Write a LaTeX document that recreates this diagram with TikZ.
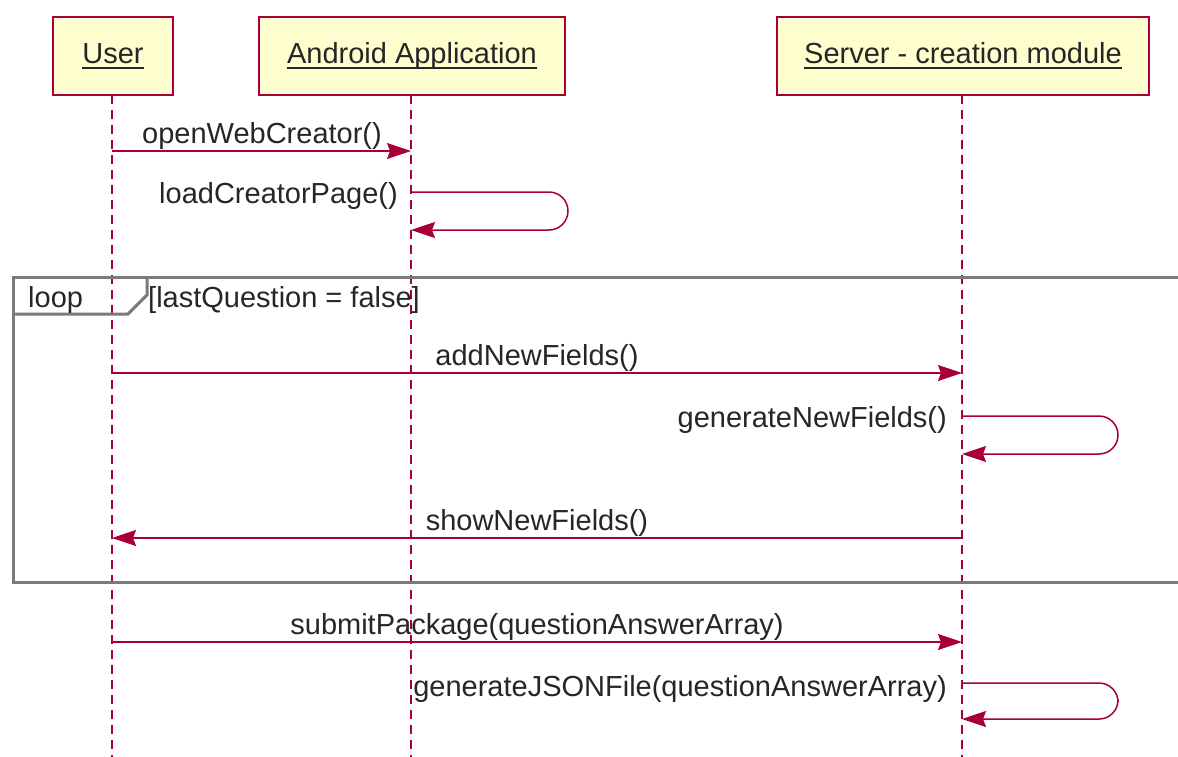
\documentclass[tikz,border=0pt]{standalone}
\usepackage{fontspec}
\setmainfont{Liberation Sans}
\usetikzlibrary{arrows.meta}
\definecolor{umlred}{HTML}{A80036}
\definecolor{umlfill}{HTML}{FEFECE}
\definecolor{framegray}{HTML}{7A7A7A}
\newcommand{\headtext}[1]{\setbox0\hbox{#1}\rlap{\rule[-5.5pt]{\wd0}{2pt}}\box0}
\begin{document}
\begin{tikzpicture}[x=1pt,y=-1pt,
  every node/.style={font=\fontsize{29}{34}\selectfont, text=black!85},
  head/.style={draw=umlred, fill=umlfill, line width=2pt, minimum height=78pt,
    inner sep=0pt, text height=21pt, text depth=6pt},
  lifeline/.style={draw=umlred, line width=1.5pt, dash pattern=on 9pt off 6pt},
  msg/.style={draw=umlred, line width=1.5pt,
    -{Stealth[length=24pt,width=16pt,inset=3pt]}},
  selfmsg/.style={msg, rounded corners=19pt},
  lbl/.style={anchor=base, inner sep=0pt},
  lblr/.style={anchor=base east, inner sep=0pt},
  lbll/.style={anchor=base west, inner sep=0pt},
  loopframe/.style={draw=framegray, line width=3pt}]
\useasboundingbox (0,0) rectangle (1178,756);

% participants
\node[head, minimum width=120pt] (user) at (113,56) {\headtext{User}};
\node[head, minimum width=306pt] (app) at (412,56) {\headtext{Android Application}};
\node[head, minimum width=372pt] (srv) at (963,56) {\headtext{Server - creation module}};

% lifelines
\coordinate (userEnd) at (112,760);
\coordinate (appEnd) at (411,760);
\coordinate (srvEnd) at (962,760);
\draw[lifeline] (112,95) -- (userEnd);
\draw[lifeline] (411,95) -- (appEnd);
\draw[lifeline] (962,95) -- (srvEnd);

% loop fragment
\draw[loopframe] (13,277) rectangle (1195,582);
\draw[loopframe] (13,314) -- (128,314) -- (147,295) -- (147,277);
\node[lbll] (looplbl) at (28,307) {loop};
\node[lbll] (guard) at (148,307) {[lastQuestion = false]};

% message anchor points on the lifelines
\coordinate (m1a) at (112,151); \coordinate (m1b) at (411,151);
\coordinate (m2a) at (411,192); \coordinate (m2b) at (411,230);
\coordinate (m3a) at (112,373); \coordinate (m3b) at (962,373);
\coordinate (m4a) at (962,416); \coordinate (m4b) at (962,454);
\coordinate (m5a) at (962,538); \coordinate (m5b) at (112,538);
\coordinate (m6a) at (112,642); \coordinate (m6b) at (962,642);
\coordinate (m7a) at (962,683); \coordinate (m7b) at (962,719);

% messages
\draw[msg] (m1a) -- (m1b);
\node[lbl] (l1) at (262,143) {openWebCreator()};

\draw[selfmsg] (m2a) -- (568,192) -- (568,230) -- (m2b);
\node[lblr] (l2) at (398,203) {loadCreatorPage()};

\draw[msg] (m3a) -- (m3b);
\node[lbl] (l3) at (537,365) {addNewFields()};

\draw[selfmsg] (m4a) -- (1118,416) -- (1118,454) -- (m4b);
\node[lblr] (l4) at (947,427) {generateNewFields()};

\draw[msg] (m5a) -- (m5b);
\node[lbl] (l5) at (537,530) {showNewFields()};

\draw[msg] (m6a) -- (m6b);
\node[lbl] (l6) at (537,634) {submitPackage(questionAnswerArray)};

\draw[selfmsg] (m7a) -- (1118,683) -- (1118,719) -- (m7b);
\node[lblr] (l7) at (947,696) {generateJSONFile(questionAnswerArray)};
\end{tikzpicture}
\end{document}
